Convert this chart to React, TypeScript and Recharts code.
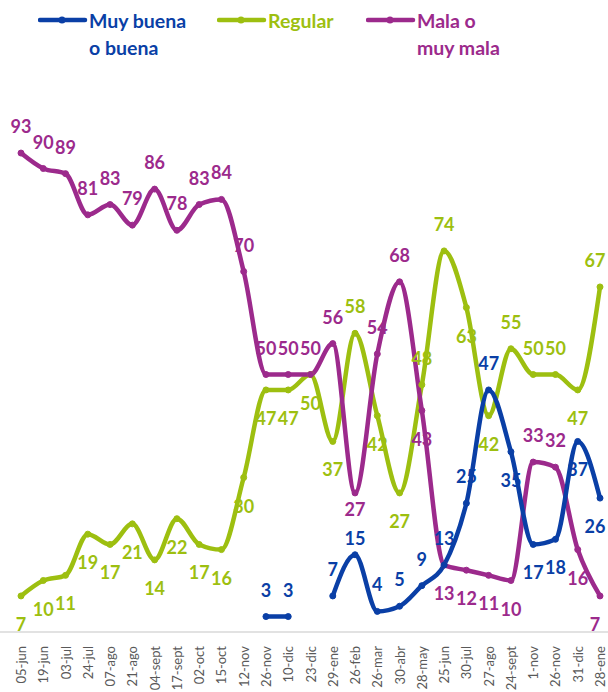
import React from 'react';
import { LineChart, Line, XAxis, YAxis, LabelList } from 'recharts';

const categories = [
  '05-jun', '19-jun', '03-jul', '24-jul', '07-ago', '21-ago', '04-sept', '17-sept', '02-oct',
  '15-oct', '12-nov', '26-nov', '10-dic', '23-dic', '29-ene', '26-feb', '26-mar', '30-abr',
  '28-may', '25-jun', '30-jul', '27-ago', '24-sept', '1-nov', '26-nov', '31-dic', '28-ene',
];

const muyBuena = [
  null, null, null, null, null, null, null, null, null, null, null,
  3, 3, null, 7, 15, 4, 5, 9, 13, 25, 47, 35, 17, 18, 37, 26,
];
const regular = [7, 10, 11, 19, 17, 21, 14, 22, 17, 16, 30, 47, 47, 50, 37, 58, 42, 27, 48, 74, 63, 42, 55, 50, 50, 47, 67];
const mala = [93, 90, 89, 81, 83, 79, 86, 78, 83, 84, 70, 50, 50, 50, 56, 27, 54, 68, 43, 13, 12, 11, 10, 33, 32, 16, 7];

// label placement per point: t = above, b = below, T/B = close above/below
const muyBuenaPos = 'tttttttttttttttTtttttt' + 'bbbbb';
const regularPos = 'bbbbbbbbbbbbbbb' + 'tbbttbbtttbt';
const malaPos = 'ttttttttttttttt' + 'Bttbbbbbttbb';
const OFFSETS: Record<string, number> = { t: -27, T: -17, b: 28, B: 16 };

const BLUE = '#0a3fa6';
const GREEN = '#9dbf10';
const PURPLE = '#9c2a8c';
const FONT = 'Lato, "Open Sans", sans-serif';

const data = categories.map((c, i) => ({
  name: c,
  muyBuena: muyBuena[i],
  regular: regular[i],
  mala: mala[i],
}));

const makeLabel = (color: string, pos: string) => (props: any) => {
  const { x, y, value, index } = props;
  if (value === null || value === undefined) return null;
  const dy = OFFSETS[pos[index]];
  const dx = index === categories.length - 1 ? -5 : 0;
  return (
    <text
      x={x + dx}
      y={y + dy}
      textAnchor="middle"
      dominantBaseline="central"
      fill={color}
      fontFamily={FONT}
      fontWeight={700}
      fontSize={18}
    >
      {value}
    </text>
  );
};

const RotatedTick = (props: any) => {
  const { x, y, payload } = props;
  return (
    <text
      transform={`translate(${x},${y + 6}) rotate(-90)`}
      textAnchor="end"
      dominantBaseline="central"
      fill="#595959"
      fontFamily={FONT}
      fontSize={13}
    >
      {payload.value}
    </text>
  );
};

const LegendItem = ({ left, color, lines }: { left: number; color: string; lines: string[] }) => (
  <div style={{ position: 'absolute', left, top: 7, display: 'flex', alignItems: 'flex-start' }}>
    <svg width={50} height={26} style={{ flex: 'none' }}>
      <line x1={2} y1={13} x2={47} y2={13} stroke={color} strokeWidth={4.5} strokeLinecap="round" />
      <circle cx={24} cy={13} r={3.5} fill={color} />
    </svg>
    <div style={{ color, fontFamily: FONT, fontWeight: 700, fontSize: 19.5, lineHeight: '27px', marginLeft: 1 }}>
      {lines.map((l) => (
        <div key={l}>{l}</div>
      ))}
    </div>
  </div>
);

export default function App() {
  return (
    <div style={{ position: 'absolute', left: 0, top: 0, width: 608, height: 692, background: '#fff' }}>
      <LegendItem left={38} color={BLUE} lines={['Muy buena', 'o buena']} />
      <LegendItem left={217} color={GREEN} lines={['Regular']} />
      <LegendItem left={366} color={PURPLE} lines={['Mala o', 'muy mala']} />
      <LineChart
        width={608}
        height={692}
        data={data}
        margin={{ top: 117, right: 0, bottom: 0, left: 0 }}
        style={{ position: 'absolute', left: 0, top: 0 }}
      >
        <XAxis
          dataKey="name"
          interval={0}
          height={60}
          padding={{ left: 21, right: 8 }}
          tickLine={false}
          axisLine={{ stroke: '#d9d9d9', strokeWidth: 1.5 }}
          tick={<RotatedTick />}
        />
        <YAxis hide domain={[0, 100]} />
        <Line
          type="monotone"
          dataKey="regular"
          stroke={GREEN}
          strokeWidth={4.5}
          dot={{ r: 3, fill: GREEN, stroke: GREEN, strokeWidth: 1 }}
          isAnimationActive={false}
        >
          <LabelList dataKey="regular" content={makeLabel(GREEN, regularPos)} />
        </Line>
        <Line
          type="monotone"
          dataKey="mala"
          stroke={PURPLE}
          strokeWidth={4.5}
          dot={{ r: 3, fill: PURPLE, stroke: PURPLE, strokeWidth: 1 }}
          isAnimationActive={false}
        >
          <LabelList dataKey="mala" content={makeLabel(PURPLE, malaPos)} />
        </Line>
        <Line
          type="monotone"
          dataKey="muyBuena"
          stroke={BLUE}
          strokeWidth={4.5}
          dot={{ r: 3, fill: BLUE, stroke: BLUE, strokeWidth: 1 }}
          connectNulls={false}
          isAnimationActive={false}
        >
          <LabelList dataKey="muyBuena" content={makeLabel(BLUE, muyBuenaPos)} />
        </Line>
      </LineChart>
    </div>
  );
}
